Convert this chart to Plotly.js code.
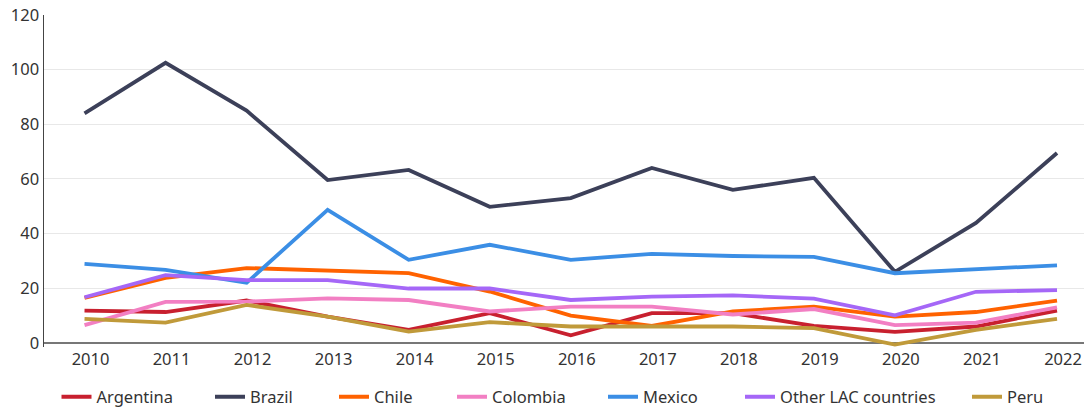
<!DOCTYPE html>
<html>
<head>
<meta charset="utf-8">
<script src="https://cdn.plot.ly/plotly-3.0.1.min.js"></script>
<style>
  html, body { margin: 0; padding: 0; background: #fff; }
  #chart { width: 1084px; height: 409px; }
</style>
</head>
<body>
<div id="chart"></div>
<script>
const years = [2010, 2011, 2012, 2013, 2014, 2015, 2016, 2017, 2018, 2019, 2020, 2021, 2022];

const seriesNames = ["Argentina", "Brazil", "Chile", "Colombia", "Mexico", "Other LAC countries", "Peru"];

const argentina = [11.8, 11.3, 15.5, 9.6, 4.8, 10.9, 2.8, 10.9, 10.9, 6.2, 4.0, 6.0, 11.8];
const brazil    = [84.0, 102.5, 85.0, 59.6, 63.3, 49.8, 53.0, 64.0, 56.0, 60.4, 26.0, 43.9, 69.5];
const chile     = [16.5, 23.8, 27.4, 26.5, 25.5, 18.8, 10.0, 6.2, 11.5, 13.3, 9.6, 11.3, 15.5];
const colombia  = [6.5, 15.0, 15.1, 16.3, 15.7, 11.5, 13.3, 13.3, 10.4, 12.4, 6.5, 7.4, 13.0];
const mexico    = [28.9, 26.7, 22.0, 48.7, 30.4, 35.9, 30.4, 32.6, 31.8, 31.5, 25.5, 27.1, 28.4];
const otherLAC  = [16.7, 24.8, 23.0, 23.0, 19.9, 19.9, 15.7, 16.9, 17.4, 16.2, 10.1, 18.7, 19.3];
const peru      = [8.8, 7.4, 13.9, 9.6, 4.1, 7.6, 6.0, 6.0, 6.0, 5.4, -0.6, 4.8, 8.8];

const yTicks = [0, 20, 40, 60, 80, 100, 120];

const seriesValues = [argentina, brazil, chile, colombia, mexico, otherLAC, peru];
const colors = ["#c8202f", "#3c4059", "#ff6200", "#f27fc3", "#3b8ee5", "#a567f7", "#c09a3a"];
// legend line start pixels (container coords)
const legendX = [61.5, 215, 339, 457, 608, 745, 972];

const FONT = "'Source Sans Pro', 'Noto Sans', sans-serif";

const traces = seriesNames.map((name, i) => ({
  type: "scatter",
  mode: "lines",
  name: name,
  x: years,
  y: seriesValues[i],
  line: { color: colors[i], width: 3.8 },
  legend: i === 0 ? "legend" : "legend" + (i + 1),
  hoverinfo: "x+y+name"
}));

const layout = {
  width: 1084,
  height: 409,
  margin: { l: 44, r: 0, t: 15, b: 62 },
  paper_bgcolor: "#ffffff",
  plot_bgcolor: "#ffffff",
  font: { family: FONT, size: 16.5, color: "#333333" },
  showlegend: true,
  xaxis: {
    range: [2009.5, 2022.333],
    tickvals: years,
    ticktext: years.map(String),
    showgrid: false,
    zeroline: false,
    showline: false,
    ticks: "",
    ticklabelshift: 6,
    tickfont: { family: FONT, size: 16.5, color: "#333333" },
    fixedrange: true
  },
  yaxis: {
    range: [-1.5, 120],
    tickvals: yTicks,
    ticktext: yTicks.map(String),
    showgrid: true,
    gridcolor: "#e8e8e8",
    gridwidth: 1,
    zeroline: true,
    zerolinecolor: "#777777",
    zerolinewidth: 1.5,
    showline: true,
    linecolor: "#444444",
    linewidth: 1.5,
    ticks: "",
    tickfont: { family: FONT, size: 16.5, color: "#333333" },
    fixedrange: true
  }
};

seriesNames.forEach((name, i) => {
  const key = i === 0 ? "legend" : "legend" + (i + 1);
  layout[key] = {
    orientation: "h",
    xref: "container",
    yref: "container",
    x: (legendX[i] - 5) / 1084,
    xanchor: "left",
    y: 1 - 397 / 409,
    yanchor: "middle",
    bgcolor: "rgba(0,0,0,0)",
    borderwidth: 0,
    font: { family: FONT, size: 16.5, color: "#333333" }
  };
});

Plotly.newPlot("chart", traces, layout, { displayModeBar: false, staticPlot: true });
</script>
</body>
</html>
